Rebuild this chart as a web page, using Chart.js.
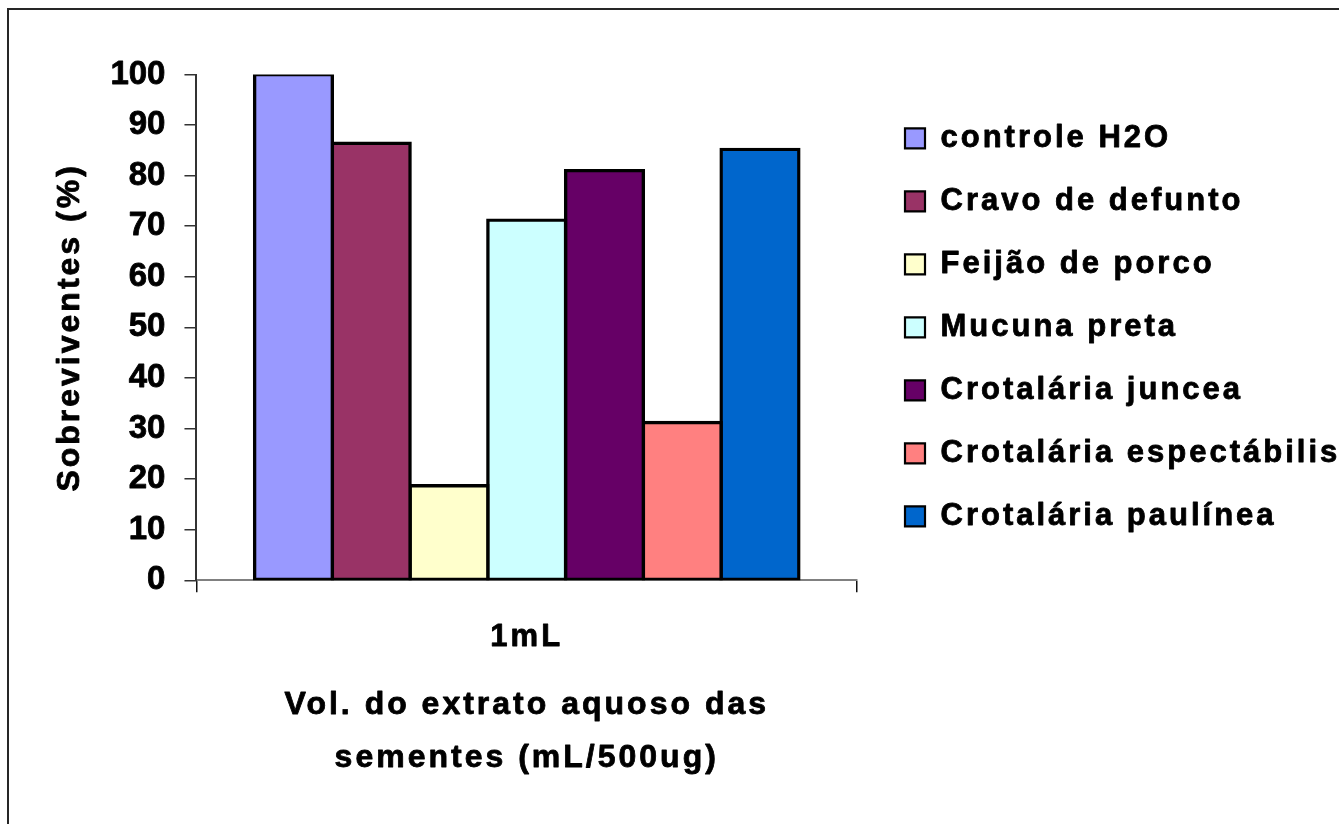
<!DOCTYPE html>
<html>
<head>
<meta charset="utf-8">
<title>Sobreviventes (%)</title>
<script src="https://cdn.jsdelivr.net/npm/chart.js@4/dist/chart.umd.min.js"></script>
<style>
  html, body { margin: 0; padding: 0; background: #fff; }
  #wrap { position: relative; width: 1339px; height: 824px; overflow: hidden; }
  #frame {
    position: absolute; left: 7px; top: 8px; width: 1400px; height: 900px;
    border-left: 2px solid #262626; border-top: 2px solid #262626;
    pointer-events: none;
  }
  canvas { display: block; }
</style>
</head>
<body>
<div id="wrap">
  <canvas id="chart" width="1339" height="824"></canvas>
  <div id="frame"></div>
</div>
<script>
// ---- data ----
const categories = ['1mL'];
const seriesNames = [
  'controle H2O',
  'Cravo de defunto',
  'Feijão de porco',
  'Mucuna preta',
  'Crotalária juncea',
  'Crotalária espectábilis',
  'Crotalária paulínea'
];
const controleH2O = [100];
const cravoDefunto = [86.4];
const feijaoPorco = [18.7];
const mucunaPreta = [71.2];
const crotalariaJuncea = [81.0];
const crotalariaEspectabilis = [31.2];
const crotalariaPaulinea = [85.2];
const seriesValues = [controleH2O, cravoDefunto, feijaoPorco, mucunaPreta,
                      crotalariaJuncea, crotalariaEspectabilis, crotalariaPaulinea];
const yTickValues = [0, 10, 20, 30, 40, 50, 60, 70, 80, 90, 100];
const yTitle = 'Sobreviventes (%)';
const xTitle = ['Vol. do extrato aquoso das', 'sementes (mL/500ug)'];

// ---- styles ----
const seriesColors = ['#9999FF', '#993366', '#FFFFCC', '#CCFFFF', '#660066', '#FF8080', '#0066CC'];
const FONT = "'Liberation Sans', Arial, Helvetica, sans-serif";
const SPACING = '3px';
const LEGEND_WIDTH = 482;
const LEGEND_SHIFT = 16;
const TEXT_WEIGHT_STROKE = 0.8;
const BAR_OUTLINE = 3.4;

const canvas = document.getElementById('chart');
const ctx2d = canvas.getContext('2d');

// Slightly heavier lettering: every filled glyph run gets a thin outline in its own colour
const baseFillText = ctx2d.fillText;
ctx2d.fillText = function (...args) {
  baseFillText.apply(this, args);
  this.save();
  this.lineWidth = TEXT_WEIGHT_STROKE;
  this.lineJoin = 'round';
  this.strokeStyle = this.fillStyle;
  this.strokeText(...args);
  this.restore();
};

// Wider letter spacing for axis titles and category labels
const baseDrawTitle = Chart.Scale.prototype.drawTitle;
Chart.Scale.prototype.drawTitle = function (...args) {
  const ctx = this.ctx;
  ctx.save();
  ctx.letterSpacing = SPACING;
  baseDrawTitle.apply(this, args);
  ctx.restore();
};
const baseDrawLabels = Chart.Scale.prototype.drawLabels;
Chart.Scale.prototype.drawLabels = function (...args) {
  if (this.axis !== 'x') return baseDrawLabels.apply(this, args);
  const ctx = this.ctx;
  ctx.save();
  ctx.letterSpacing = SPACING;
  baseDrawLabels.apply(this, args);
  ctx.restore();
};

// Legend: fixed column width, spaced lettering, nudged away from the plot
const legendLayout = {
  id: 'legendLayout',
  afterInit(chart) {
    const lg = chart.legend;
    if (!lg) return;
    const fit = lg.fit.bind(lg);
    lg.fit = function () {
      this.ctx.save();
      this.ctx.letterSpacing = SPACING;
      fit();
      this.ctx.restore();
      this.width = LEGEND_WIDTH;
    };
    const draw = lg.draw.bind(lg);
    lg.draw = function () {
      const ctx = this.ctx;
      ctx.save();
      ctx.letterSpacing = SPACING;
      ctx.translate(LEGEND_SHIFT, 0);
      draw();
      ctx.restore();
    };
  }
};

// Bar outlines centred on the bar edge: the rectangle is inflated by half the outline width
const datasets = seriesNames.map((name, i) => ({
  label: name,
  data: seriesValues[i],
  backgroundColor: seriesColors[i],
  borderColor: '#000000',
  borderWidth: BAR_OUTLINE,
  inflateAmount: BAR_OUTLINE / 2,
  borderSkipped: false,
  barPercentage: 1.0,
  categoryPercentage: 0.824
}));

new Chart(canvas, {
  type: 'bar',
  data: { labels: categories, datasets },
  plugins: [legendLayout],
  options: {
    responsive: false,
    animation: false,
    devicePixelRatio: 1,
    layout: { padding: { top: 74.5, left: 30, right: 0, bottom: 39.5 } },
    plugins: {
      tooltip: { enabled: false },
      legend: {
        position: 'right',
        align: 'center',
        fullSize: false,
        labels: {
          boxWidth: 20,
          boxHeight: 20,
          padding: 32,
          color: '#000',
          font: { family: FONT, size: 31, weight: 'bold' },
          generateLabels(chart) {
            const items = Chart.defaults.plugins.legend.labels.generateLabels(chart);
            items.forEach(it => { it.lineWidth = 2.2; it.strokeStyle = '#000'; });
            return items;
          }
        }
      }
    },
    scales: {
      x: {
        offset: true,
        grid: {
          offset: true,
          drawOnChartArea: false,
          drawTicks: true,
          tickLength: 12,
          color: '#111',
          lineWidth: 1.5
        },
        border: { display: true, color: '#808080', width: 2 },
        ticks: {
          color: '#000',
          padding: 27,
          font: { family: FONT, size: 31, weight: 'bold' }
        },
        title: {
          display: true,
          text: xTitle,
          color: '#000',
          font: { family: FONT, size: 32, weight: 'bold', lineHeight: 53 / 32 },
          padding: { top: -5, bottom: 0 }
        }
      },
      y: {
        min: 0,
        max: 100,
        afterBuildTicks: (scale) => { scale.ticks = yTickValues.map(v => ({ value: v })); },
        grid: {
          drawOnChartArea: false,
          drawTicks: true,
          tickLength: 12,
          color: '#333',
          lineWidth: 1.5
        },
        border: { display: true, color: '#333', width: 2 },
        ticks: {
          color: '#000',
          padding: 19,
          font: { family: FONT, size: 33, weight: 'bold' }
        },
        title: {
          display: true,
          text: yTitle,
          color: '#000',
          font: { family: FONT, size: 32, weight: 'bold' },
          padding: { top: 21, bottom: 2 }
        }
      }
    }
  }
});
</script>
</body>
</html>
